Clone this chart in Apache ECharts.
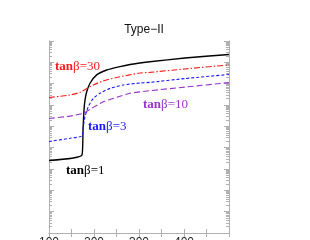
<!DOCTYPE html>
<html><head><meta charset="utf-8">
<script src="https://cdn.jsdelivr.net/npm/echarts@6/dist/echarts.min.js"></script>
<style>html,body{margin:0;padding:0;background:#fff}#c{width:310px;height:240px}</style>
</head><body><div id="c"></div>
<script>
// x: mass (GeV), y: log10 of quantity (decades)
const xTicks = [100, 200, 300, 400, 500];
const tb1 = [[100,3.40],[173.3,3.66],[175.6,4.83],[177.8,5.77],[180,6.23],[183.8,6.62],[191.1,7.02],[206,7.41],[228.2,7.64],[257.8,7.80],[280,7.90],[302,7.97],[324,8.03],[402,8.20],[500,8.37]];
const tb30 = [[100,6.35],[146.7,6.47],[168.9,6.59],[183.8,6.77],[198.4,6.94],[220.7,7.13],[250.4,7.29],[302,7.50],[324,7.53],[402,7.69],[500,7.88]];
const tb3 = [[100,4.29],[146.7,4.44],[173.3,4.55],[176.2,4.98],[180,5.45],[187.3,5.92],[198.4,6.31],[213.3,6.55],[235.6,6.78],[265,6.94],[302,7.03],[324,7.06],[402,7.24],[500,7.43]];
const tb10 = [[100,5.37],[146.7,5.48],[176.2,5.61],[191.1,5.80],[220.7,6.15],[250.4,6.36],[280,6.55],[324,6.67],[402,6.84],[500,7.05]];
const majorY = [0,1,2,3,4,5,6,7,8,9];
const minorY = [];
for (let n = 0; n < 9; n++) for (let k = 2; k <= 9; k++) minorY.push(n + Math.log10(k));

const chart = echarts.init(document.getElementById('c'), null, {renderer:'canvas'});
const axCol = '#b0b0b0';
function yAx(pos, vals, len){
  return {type:'value', min:0, max:9, position:pos,
    axisLine:{show:true, lineStyle:{color:axCol}},
    axisTick:{show:true, inside:true, length:len, customValues:vals, lineStyle:{color:axCol}},
    axisLabel:{show:false}, splitLine:{show:false}};
}
function xAx(pos, showLabel){
  return {type:'value', min:100, max:500, interval:100, position:pos,
    axisLine:{show:true, lineStyle:{color:axCol}},
    axisTick:{show:true, inside:true, length:4, lineStyle:{color:axCol}},
    minorTick:{show:true, splitNumber:2, length:4, lineStyle:{color:axCol}},
    axisLabel:{show:showLabel, showMaxLabel:false, fontSize:12, color:'#222', fontFamily:'Liberation Sans', margin:4},
    splitLine:{show:false}};
}
const series = [
  {name:'tb1', data:tb1, color:'#000', lineStyle:{width:1.4, type:'solid'}},
  {name:'tb30', data:tb30, color:'#ff1a1a', lineStyle:{width:1.1, type:[6,2,1.5,2]}},
  {name:'tb3', data:tb3, color:'#1a1aff', lineStyle:{width:1.1, type:[3,2]}},
  {name:'tb10', data:tb10, color:'#9933cc', lineStyle:{width:1.1, type:[6,3]}}
].map(s => Object.assign({type:'line', showSymbol:false, smooth:0.2, xAxisIndex:0, yAxisIndex:0, animation:false}, s));

function lab(x, y, rest, color){
  return {type:'text', left:x, top:y, style:{
    text:'{a|tan}{b|β' + rest + '}',
    fill: color,
    rich:{a:{fontFamily:'Liberation Serif', fontWeight:'bold', fontSize:13, fill:color},
          b:{fontFamily:'Liberation Serif', fontSize:13, fill:color}}}};
}
chart.setOption({
  animation:false,
  title:{text:'Type−II', left:139, top:19, textAlign:'center', textStyle:{fontSize:12, fontWeight:'normal', color:'#111', fontFamily:'Liberation Sans'}},
  grid:{left:49, right:81, top:41, bottom:7, containLabel:false, outerBoundsMode:'none'},
  xAxis:[xAx('bottom', true), xAx('top', false)],
  yAxis:[yAx('left', majorY, 5), yAx('right', majorY, 5), yAx('left', minorY, 3), yAx('right', minorY, 3)],
  series: series,
  graphic:[
    lab(55, 60, '=30', '#ff1a1a'),
    lab(143, 98, '=10', '#9933cc'),
    lab(88, 120, '=3', '#1a1aff'),
    lab(66, 164, '=1', '#000')
  ]
});
</script></body></html>
